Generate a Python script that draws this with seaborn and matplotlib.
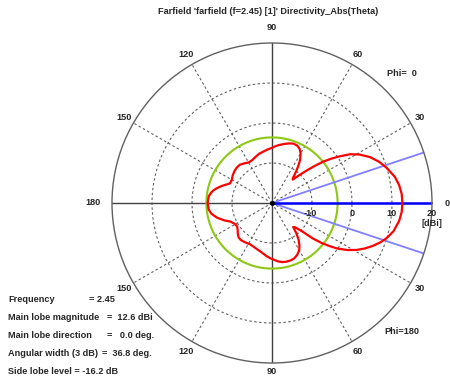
import numpy as np
import matplotlib
matplotlib.use("Agg")
import matplotlib.pyplot as plt
import seaborn as sns

# Directivity pattern (Phi = 0 / 180 cut), theta in degrees, directivity in dBi
theta_deg = [0, 4, 8, 12, 17, 21, 25, 29, 32, 35, 37, 39, 41, 43, 45, 47, 48.5, 50,
             53, 55, 57, 60, 63, 66, 70, 74, 78, 82, 86, 90, 95, 100, 105, 110, 115,
             120, 125, 130, 135, 140, 145, 150, 155, 158, 161, 164, 167, 170, 174, 180,
             186, 190, 195, 200, 204, 209, 214, 218, 222, 226, 230, 236, 242, 248, 253,
             258, 263, 268, 272, 276, 280, 284, 288, 292, 296, 300, 303, 306, 309,
             311.5, 314, 317, 319, 321, 323, 325, 328, 331, 334, 337, 340, 343, 347,
             352, 356, 360]
dir_dbi = [12.6, 12.5, 12.1, 11.4, 10.0, 8.7, 7.1, 5.0, 3.0, 0.2, -1.7, -3.6, -5.9,
           -8.0, -9.8, -11.3, -12.2, -11.8, -9.8, -8.4, -7.1, -5.7, -4.8, -4.35, -4.2,
           -4.5, -4.9, -5.3, -5.7, -6.2, -6.6, -7.0, -7.3, -7.8, -8.2, -8.3, -7.9,
           -7.5, -7.5, -7.7, -8.0, -8.4, -8.4, -7.7, -6.8, -6.0, -5.2, -4.6, -4.1,
           -3.9, -4.1, -4.6, -5.8, -7.3, -8.6, -9.3, -9.5, -9.1, -8.5, -8.0, -7.9,
           -8.1, -8.3, -8.1, -7.8, -7.4, -6.8, -6.2, -5.8, -5.3, -5.0, -4.9, -4.9,
           -5.1, -5.6, -6.4, -7.4, -8.7, -10.4, -12.0, -11.5, -9.4, -6.5, -4.2, -2.2,
           -0.2, 2.2, 4.2, 5.9, 7.4, 8.8, 10.0, 11.2, 12.1, 12.5, 12.6]

# Radial scale and summary values
r_min, r_max = -20, 20
ring_levels = [-10, 0, 10]
ring_labels = ["-10", "0", "10", "20"]
angle_ticks = [0, 30, 60, 90, 120, 150, 180, 210, 240, 270, 300, 330]
angle_labels = ["0", "30", "60", "90", "120", "150", "180", "150", "120", "90", "60", "30"]
frequency = 2.45
main_lobe_mag = 12.6
main_lobe_dir = 0.0
angular_width = 36.8
side_lobe_level = -16.2

W, H = 450, 376
sns.set_style("white")
plt.rcParams["font.family"] = ["Liberation Sans", "DejaVu Sans"]
plt.rcParams["font.weight"] = "bold"
FS = 6.6

fig = plt.figure(figsize=(W / 100, H / 100), dpi=100)
cx, cy, R = 272, 203, 160
ax = fig.add_axes([(cx - R) / W, (H - cy - R) / H, 2 * R / W, 2 * R / H],
                  projection="polar")
ax.set_ylim(r_min, r_max)
ax.set_xticks([])
ax.set_yticks([])
ax.grid(False)
ax.set_facecolor("white")
ax.spines["polar"].set_color("#606060")
ax.spines["polar"].set_linewidth(1.0)

full = np.linspace(0, 2 * np.pi, 400)
grid_kw = dict(color="#606060", lw=0.8, ls=(0, (2.2, 2.2)))
for lv in ring_levels:
    ax.plot(full, np.full_like(full, lv), **grid_kw)
for a in angle_ticks:
    t = np.deg2rad(a)
    if a % 90 == 0:
        ax.plot([t, t], [r_min, r_max], color="#404040", lw=1.0)
    else:
        ax.plot([t, t], [r_min, r_max], **grid_kw)

# Side lobe level circle
sll_abs = main_lobe_mag + side_lobe_level
ax.plot(full, np.full_like(full, sll_abs), color="#8cc814", lw=1.5)

# 3 dB beam width and main lobe direction
for sgn in (-1, 1):
    t = np.deg2rad(main_lobe_dir + sgn * angular_width / 2)
    ax.plot([t, t], [r_min, r_max], color="#8080ff", lw=1.3)
t0 = np.deg2rad(main_lobe_dir)
ax.plot([t0, t0], [r_min, r_max], color="#0000ff", lw=1.8)

# Directivity curve
sns.lineplot(x=np.deg2rad(theta_deg), y=dir_dbi, ax=ax, sort=False,
             color="#ff0000", lw=1.6, estimator=None)
ax.plot([0], [r_min], marker="o", ms=2.5, color="black")
ax.set_xlabel("")
ax.set_ylabel("")


def ptext(x, y, s, **kw):
    fig.text(x / W, 1 - y / H, s, fontsize=FS, fontweight="bold", **kw)


ptext(268, 12, "Farfield 'farfield (f=2.45) [1]' Directivity_Abs(Theta)",
      ha="center", va="center")

for a, lab in zip(angle_ticks, angle_labels):
    rr = {0: 175, 90: 175, 270: 169, 180: 179}.get(a, 171)
    x = cx + rr * np.cos(np.deg2rad(a))
    y = cy - rr * np.sin(np.deg2rad(a))
    ptext(x, y, lab, ha="center", va="center")

for i, lab in enumerate(ring_labels):
    x = cx + (i + 1) * R / 4
    ptext(x + (-2 if lab.startswith("-") else 0), 213, lab, ha="center", va="center")
ptext(432, 223, "[dBi]", ha="center", va="center")

ptext(402, 74, "Phi=  0", ha="center", va="center")
ptext(402, 332, "Phi=180", ha="center", va="center")

rows = [
    ("Frequency", f"= {frequency:.2f}", 89),
    ("Main lobe magnitude", f"=  {main_lobe_mag:.1f} dBi", 107),
    ("Main lobe direction", f"=   {main_lobe_dir:.1f} deg.", 107),
    ("Angular width (3 dB)", f"=  {angular_width:.1f} deg.", 102),
]
y0, dy = 300, 18
for i, (k, v, xv) in enumerate(rows):
    ptext(8, y0 + i * dy, k, ha="left", va="center")
    ptext(xv, y0 + i * dy, v, ha="left", va="center")
ptext(8, y0 + 4 * dy, f"Side lobe level = {side_lobe_level:.1f} dB", ha="left", va="center")

fig.savefig("out.png", dpi=100, facecolor="white")
